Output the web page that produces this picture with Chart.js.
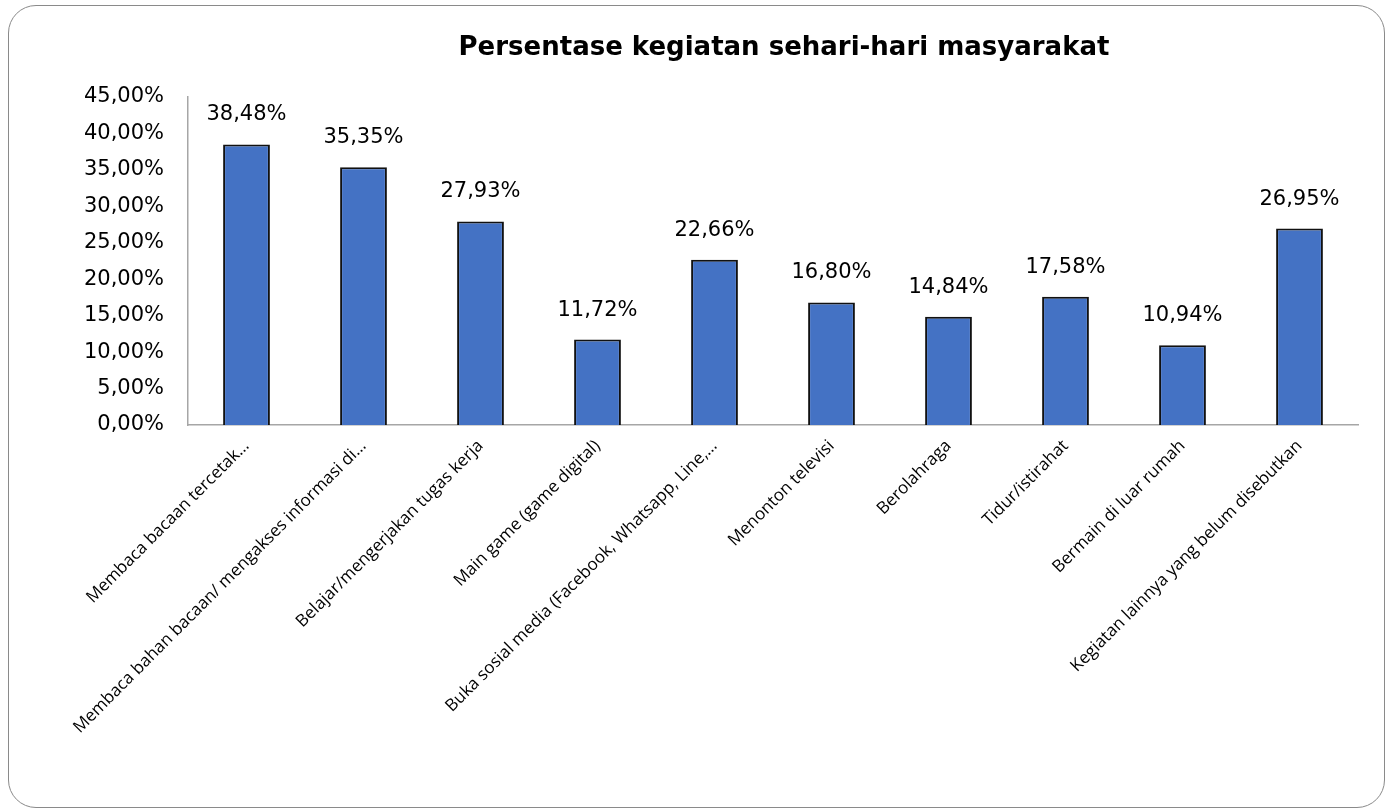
<!DOCTYPE html>
<html>
<head>
<meta charset="utf-8">
<script src="https://cdn.jsdelivr.net/npm/chart.js@4.4.0/dist/chart.umd.min.js"></script>
<style>
    html, body { margin: 0; padding: 0; background: #fff; }
    #wrap { position: relative; width: 1387px; height: 811px; }
    #frame {
        position: absolute; left: 8px; top: 5px; width: 1377px; height: 803px;
        border: 1.5px solid #8a8a8a; border-radius: 28px; box-sizing: border-box;
    }
    #chart { position: absolute; left: 0; top: 0; }
</style>
</head>
<body>
<div id="wrap">
    <div id="frame"></div>
    <canvas id="chart" width="1387" height="811"></canvas>
</div>
<script>
// データ
const chartTitle = 'Persentase kegiatan sehari-hari masyarakat';
const categories = [
    'Membaca bacaan tercetak…',
    'Membaca bahan bacaan/ mengakses informasi di…',
    'Belajar/mengerjakan tugas kerja',
    'Main game (game digital)',
    'Buka sosial media (Facebook, Whatsapp, Line,…',
    'Menonton televisi',
    'Berolahraga',
    'Tidur/istirahat',
    'Bermain di luar rumah',
    'Kegiatan lainnya yang belum disebutkan'
];
const percentValues = [38.48, 35.35, 27.93, 11.72, 22.66, 16.80, 14.84, 17.58, 10.94, 26.95];
const yTicks = [0, 5, 10, 15, 20, 25, 30, 35, 40, 45];

const numFont = '"DejaVu Sans", sans-serif';

// 数値を「38,48%」形式に
function formatPercent(v) {
    return v.toFixed(2).replace('.', ',') + '%';
}

// タイトルとデータラベルを描画するプラグイン
const labelPlugin = {
    id: 'labelPlugin',
    afterDatasetsDraw(chart) {
        const ctx = chart.ctx;
        const meta = chart.getDatasetMeta(0);
        ctx.save();
        ctx.fillStyle = '#000';
        ctx.font = '21px ' + numFont;
        ctx.textAlign = 'center';
        ctx.textBaseline = 'bottom';
        meta.data.forEach((bar, i) => {
            ctx.fillText(formatPercent(percentValues[i]), bar.x, bar.y - 19);
        });
        // タイトル
        ctx.font = 'bold 26px ' + numFont;
        ctx.textBaseline = 'middle';
        const area = chart.chartArea;
        ctx.fillText(chartTitle, (area.left + area.right) / 2 + 11, 48);
        ctx.restore();
    }
};

const ctx = document.getElementById('chart');
new Chart(ctx, {
    type: 'bar',
    data: {
        labels: categories,
        datasets: [{
            data: percentValues,
            backgroundColor: '#4472C4',
            borderColor: '#111',
            borderWidth: 2,
            barPercentage: 0.4,
            categoryPercentage: 1.0
        }]
    },
    options: {
        responsive: false,
        animation: false,
        devicePixelRatio: 1,
        layout: { padding: { top: 97, right: 29, left: 0, bottom: 0 } },
        plugins: {
            legend: { display: false },
            tooltip: { enabled: false }
        },
        scales: {
            x: {
                grid: { display: false, drawTicks: false },
                border: { display: true, color: '#a6a6a6', width: 1.5 },
                ticks: {
                    autoSkip: false,
                    minRotation: 45,
                    maxRotation: 45,
                    padding: 11,
                    color: '#000',
                    font: { family: '"Open Sans", sans-serif', size: 17 }
                },
                afterFit(scale) { scale.height = 386; }
            },
            y: {
                min: 0,
                max: 45,
                afterBuildTicks(scale) {
                    scale.ticks = yTicks.map(v => ({ value: v }));
                },
                grid: { display: false, drawTicks: false },
                border: { display: true, color: '#a6a6a6', width: 1.5 },
                ticks: {
                    padding: 24,
                    color: '#000',
                    font: { family: numFont, size: 21 },
                    callback: v => formatPercent(v)
                },
                afterFit(scale) { scale.width = 188; }
            }
        }
    },
    plugins: [labelPlugin]
});
</script>
</body>
</html>
